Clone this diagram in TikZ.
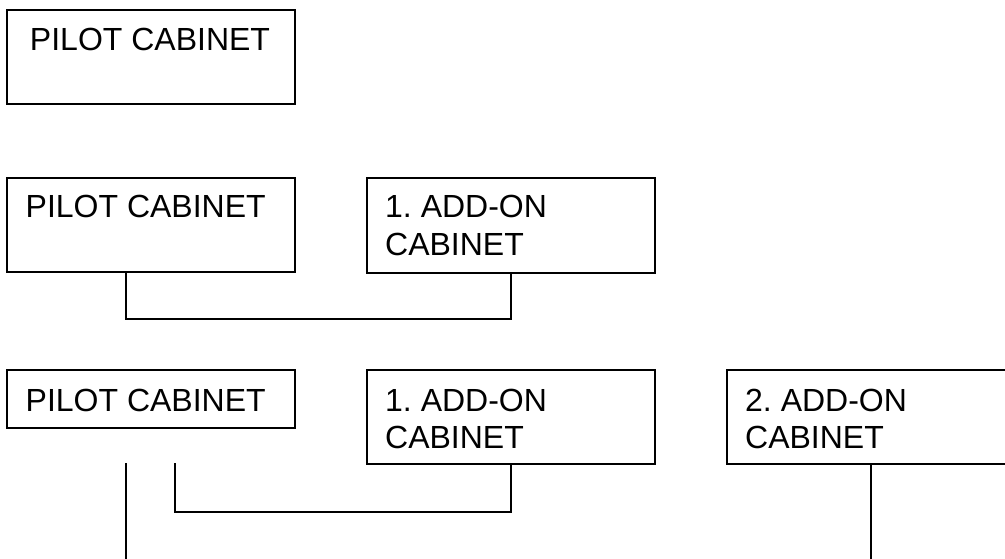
\documentclass[tikz,border=0pt]{standalone}
\usepackage{fontspec}
\setmainfont{Liberation Sans}
\frenchspacing
\begin{document}
\begin{tikzpicture}[x=1pt,y=-1pt,
  box/.style={draw=black,line width=1.6pt,rectangle,inner sep=0pt,anchor=north west,minimum width=288pt},
  lbl/.style={inner sep=0pt,font=\fontsize{32}{37.5}\selectfont},
  wire/.style={draw=black,line width=1.6pt}]
\useasboundingbox (0,0) rectangle (1005,558);
\clip (0,0) rectangle (1005,558);
% row 1
\node[box,minimum height=94pt] (p1) at (6,9) {};
\node[lbl,anchor=base] (t1) at (150,50) {PILOT CABINET};
% row 2
\node[box,minimum height=94pt] (p2) at (6,177) {};
\node[lbl,anchor=base west] (t2) at (25.5,217) {PILOT CABINET};
\node[box,minimum height=95pt] (a2) at (366,177) {};
\node[lbl,anchor=base west] (t2a) at (385,217) {1. ADD-ON};
\node[lbl,anchor=base west] (t2b) at (385,255) {CABINET};
% row 3
\node[box,minimum height=58pt] (p3) at (6,369) {};
\node[lbl,anchor=base west] (t3) at (25.5,411) {PILOT CABINET};
\node[box,minimum height=94pt] (a3) at (366,369) {};
\node[lbl,anchor=base west] (t3a) at (385,411) {1. ADD-ON};
\node[lbl,anchor=base west] (t3b) at (385,448) {CABINET};
\node[box,minimum height=94pt] (b3) at (726,369) {};
\node[lbl,anchor=base west] (t3c) at (745,411) {2. ADD-ON};
\node[lbl,anchor=base west] (t3d) at (745,448) {CABINET};
% connectors
\coordinate (r2l) at (126,319);
\draw[wire] ([xshift=120pt]p2.south west) -- (r2l) -| (a2.south);
\coordinate (c1top) at (126,463);
\coordinate (c1bot) at (126,560);
\draw[wire] (c1top) -- (c1bot);
\coordinate (c2top) at (175,463);
\coordinate (c2bend) at (175,512);
\draw[wire] (c2top) -- (c2bend) -| (a3.south);
\coordinate (c3bot) at (870,560);
\draw[wire] (b3.south) -- (b3.south |- c3bot);
\end{tikzpicture}
\end{document}
